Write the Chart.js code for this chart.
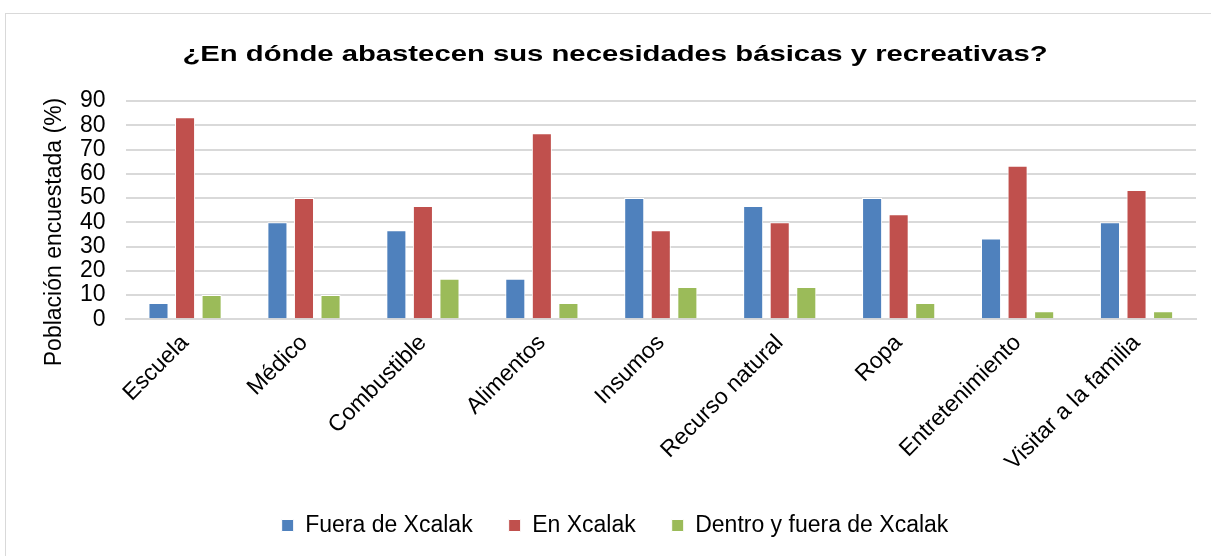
<!DOCTYPE html>
<html>
<head>
<meta charset="utf-8">
<script src="https://cdn.jsdelivr.net/npm/chart.js@4.4.0/dist/chart.umd.min.js"></script>
<style>
  body { margin: 0; background: #fff; }
  #wrap { position: absolute; left: 5px; top: 13px; width: 1215px; height: 550px; border: 1px solid #d9d9d9; }
  #inner { position: absolute; left: 0; top: 0; width: 1205px; height: 542px; }
</style>
</head>
<body>
<div id="wrap"><div id="inner"><canvas id="chart"></canvas></div></div>
<script>
var titleText = '¿En dónde abastecen sus necesidades básicas y recreativas?';
var yTitle = 'Población encuestada (%)';
var categories = ['Escuela', 'Médico', 'Combustible', 'Alimentos', 'Insumos', 'Recurso natural', 'Ropa', 'Entretenimiento', 'Visitar a la familia'];
var fueraXcalak = [6.7, 40, 36.7, 16.7, 50, 46.7, 50, 33.3, 40];
var enXcalak = [83.3, 50, 46.7, 76.7, 36.7, 40, 43.3, 63.3, 53.3];
var dentroFuera = [10, 10, 16.7, 6.7, 13.3, 13.3, 6.7, 3.3, 3.3];
var yTicks = [0, 10, 20, 30, 40, 50, 60, 70, 80, 90];

// chart title (stretched wider, like the original) and the y axis title
var titles = {
    id: 'titles',
    afterLayout: function (chart) {
        // legend sits a little left of the plot centre in the original
        chart.legend.left -= 13;
        chart.legend.right -= 13;
    },
    afterDraw: function (chart) {
        var c = chart.ctx;
        c.save();
        c.font = 'bold 22px "Liberation Sans"';
        c.fillStyle = '#000';
        c.textAlign = 'center';
        c.textBaseline = 'alphabetic';
        c.translate(609, 47);
        c.scale(1.33, 1);
        c.fillText(titleText, 0, 0);
        c.restore();

        c.save();
        c.font = '23px "Liberation Sans"';
        c.fillStyle = '#000';
        c.textAlign = 'center';
        c.textBaseline = 'middle';
        c.translate(49, 218);
        c.rotate(-Math.PI / 2);
        c.fillText(yTitle, 0, 0);
        c.restore();
    }
};

var ctx = document.getElementById('chart');
var chart = new Chart(ctx, {
    type: 'bar',
    data: {
        labels: categories,
        datasets: [
            { label: 'Fuera de Xcalak', data: fueraXcalak, backgroundColor: '#4F81BD', borderColor: '#ffffff', borderWidth: 1 },
            { label: 'En Xcalak', data: enXcalak, backgroundColor: '#C0504D', borderColor: '#ffffff', borderWidth: 1 },
            { label: 'Dentro y fuera de Xcalak', data: dentroFuera, backgroundColor: '#9BBB59', borderColor: '#ffffff', borderWidth: 1 }
        ]
    },
    plugins: [titles],
    options: {
        responsive: true,
        maintainAspectRatio: false,
        animation: false,
        categoryPercentage: 0.67,
        barPercentage: 0.755,
        layout: { padding: { left: 54, right: 15, top: 87, bottom: 9 } },
        plugins: {
            title: { display: false },
            legend: {
                position: 'bottom',
                labels: {
                    color: '#000',
                    font: { family: 'Liberation Sans', size: 23 },
                    boxWidth: 12,
                    boxHeight: 12,
                    padding: 36
                }
            },
            tooltip: { enabled: false }
        },
        scales: {
            x: {
                grid: { display: false },
                border: { color: '#d9d9d9', width: 2 },
                ticks: {
                    color: '#000',
                    padding: 2,
                    font: { family: 'Liberation Sans', size: 23 },
                    maxRotation: 45,
                    minRotation: 45,
                    autoSkip: false
                }
            },
            y: {
                min: 0,
                max: 90,
                afterBuildTicks: function (axis) {
                    axis.ticks = yTicks.map(function (v) { return { value: v }; });
                },
                grid: { color: '#d9d9d9', lineWidth: 2, drawTicks: false },
                border: { display: false },
                ticks: {
                    color: '#000',
                    padding: 20,
                    autoSkip: false,
                    font: { family: 'Liberation Sans', size: 23 }
                }
            }
        }
    }
});
</script>
</body>
</html>
